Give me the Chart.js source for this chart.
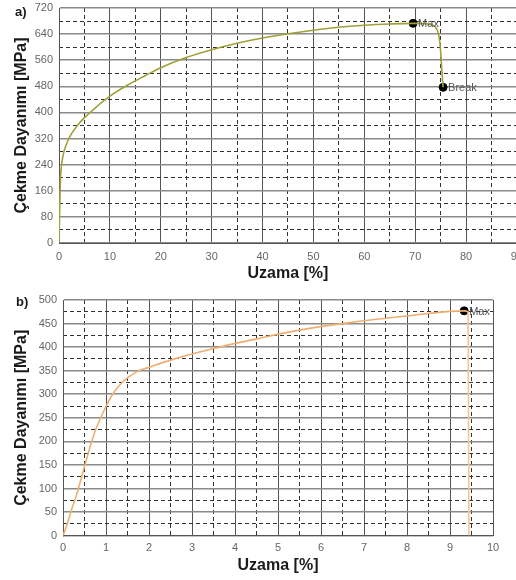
<!DOCTYPE html>
<html>
<head>
<meta charset="utf-8">
<script src="https://cdn.jsdelivr.net/npm/chart.js@4/dist/chart.umd.min.js"></script>
<style>
    html, body { margin: 0; padding: 0; background: #fff; overflow: hidden; width: 516px; height: 580px; position: relative; }
    .box { position: absolute; left: 0; }
    #boxA { top: 0; width: 530px; height: 284px; }
    #boxB { top: 284px; width: 516px; height: 296px; }
    .tag { position: absolute; font: bold 13px "Liberation Sans", Arial, sans-serif; color: #1a1a1a; }
</style>
</head>
<body>
<div class="box" id="boxA"><canvas id="chartA"></canvas></div>
<div class="box" id="boxB"><canvas id="chartB"></canvas></div>
<div class="tag" style="left:15px;top:4px;">a)</div>
<div class="tag" style="left:16px;top:294px;">b)</div>

<script>
// a) tensile curve
const strainA = [0, 0.1, 0.2, 0.3, 0.5, 0.8, 1.0, 1.4, 1.8, 2.5, 3.5, 5, 7.5, 10, 13.5, 17, 20, 25, 30, 35, 40, 45, 50, 55, 60, 65, 69.6, 71.8, 73.3, 74.2, 74.7, 75.0, 75.2, 75.5];
const stressA = [0, 80, 150, 200, 239, 268, 282, 300, 316, 336, 358, 384, 419, 450, 484, 513, 537, 568, 592, 612, 628, 641, 652, 661, 667, 671, 673, 672, 668, 657, 632, 591, 540, 477];
const markXA = [69.6, 75.5];
const markYA = [673, 477];
const tagsA = ['Max', 'Break'];

// b) tensile curve
const strainB = [0, 0.085, 0.2, 0.32, 0.51, 0.74, 1.0, 1.17, 1.4, 1.72, 2.0, 2.56, 3.5, 4.58, 5.5, 6.58, 7.98, 9.33, 9.42, 9.44];
const stressB = [0, 21, 55, 88, 150, 220, 274, 302, 327, 348, 357, 374, 397, 419, 436, 451, 466, 477, 475, 0];
const markXB = [9.33];
const markYB = [477];
const tagsB = ['Max'];

// writes "Max" / "Break" next to the marker points
const pointTags = {
    id: 'pointTags',
    afterDatasetsDraw(chart, args, opts) {
        const meta = chart.getDatasetMeta(1);
        const ctx = chart.ctx;
        ctx.save();
        ctx.font = '11px "Liberation Sans", Arial, sans-serif';
        ctx.fillStyle = '#555';
        ctx.textBaseline = 'middle';
        meta.data.forEach((pt, i) => ctx.fillText(opts.tags[i], pt.x + 5, pt.y + 1));
        ctx.restore();
    }
};

// dashed minor grid: hide the lines that sit on a major tick
function offMajor(major) {
    return (c) => {
        const r = c.tick.value / major;
        return Math.abs(r - Math.round(r)) < 1e-6 ? 'rgba(0,0,0,0)' : '#333';
    };
}

function makeChart(id, s) {
    const line = s.xs.map((x, i) => ({ x: x, y: s.ys[i] }));
    const marks = s.mx.map((x, i) => ({ x: x, y: s.my[i] }));
    const last = line.length - 2;
    return new Chart(document.getElementById(id), {
        type: 'scatter',
        data: {
            datasets: [{
                data: line,
                showLine: true,
                borderColor: s.color,
                borderWidth: 1.6,
                pointRadius: 0,
                cubicInterpolationMode: 'monotone',
                segment: { borderColor: c => (s.dropColor && c.p0DataIndex >= last) ? s.dropColor : undefined }
            }, {
                data: marks,
                pointRadius: 4,
                backgroundColor: '#000',
                borderColor: '#000'
            }]
        },
        options: {
            responsive: true,
            maintainAspectRatio: false,
            animation: false,
            layout: { padding: { top: s.padTop, right: s.padRight, left: 0, bottom: 0 } },
            plugins: { legend: { display: false }, tooltip: { enabled: false }, pointTags: { tags: s.tags } },
            scales: {
                x: {
                    type: 'linear', min: 0, max: s.xMax,
                    ticks: { stepSize: s.xStep, color: '#666', padding: s.tickPad, font: { size: 11, family: '"Liberation Sans", Arial' } },
                    grid: { color: '#555', lineWidth: 1, drawTicks: false },
                    border: { color: '#555' },
                    title: { display: true, text: 'Uzama [%]', color: '#1a1a1a', padding: s.xTitlePad,
                             font: { size: 16, weight: 'bold', family: '"Liberation Sans", Arial' } }
                },
                x2: {
                    type: 'linear', position: 'top', min: 0, max: s.xMax,
                    ticks: { display: false, stepSize: s.xStep / 2 },
                    grid: { color: offMajor(s.xStep), lineWidth: 1, drawTicks: false },
                    border: { display: false, dash: [4, 3] }
                },
                y: {
                    min: 0, max: s.yMax,
                    afterFit: (scale) => { scale.width = s.leftW; },
                    ticks: { stepSize: s.yStep, color: '#666', padding: 1, font: { size: 11, family: '"Liberation Sans", Arial' } },
                    grid: { color: '#8a8a8a', lineWidth: 1.6, drawTicks: true, tickLength: 5, tickColor: 'rgba(0,0,0,0)' },
                    border: { color: '#555' },
                    title: { display: true, text: 'Çekme Dayanımı [MPa]', color: '#1a1a1a', padding: { top: 12, bottom: 0 },
                             font: { size: 16, weight: 'bold', family: '"Liberation Sans", Arial' } }
                },
                y2: {
                    position: 'right', min: 0, max: s.yMax,
                    ticks: { display: false, stepSize: s.yStep / 2 },
                    grid: { color: offMajor(s.yStep), lineWidth: 1, drawTicks: false },
                    border: { display: false, dash: [4, 3] }
                }
            }
        },
        plugins: [pointTags]
    });
}

makeChart('chartA', {
    xs: strainA, ys: stressA, mx: markXA, my: markYA, tags: tagsA,
    color: '#a0a038', dropColor: null,
    xMax: 90, xStep: 10, yMax: 720, yStep: 80,
    leftW: 59, padTop: 8, padRight: 11, tickPad: 7, xTitlePad: { top: -6.4, bottom: 1 }
});

makeChart('chartB', {
    xs: strainB, ys: stressB, mx: markXB, my: markYB, tags: tagsB,
    color: '#efae70', dropColor: '#f4c796',
    xMax: 10, xStep: 1, yMax: 500, yStep: 50,
    leftW: 63, padTop: 16, padRight: 23, tickPad: 6, xTitlePad: { top: -5, bottom: 5 }
});
</script>
</body>
</html>
